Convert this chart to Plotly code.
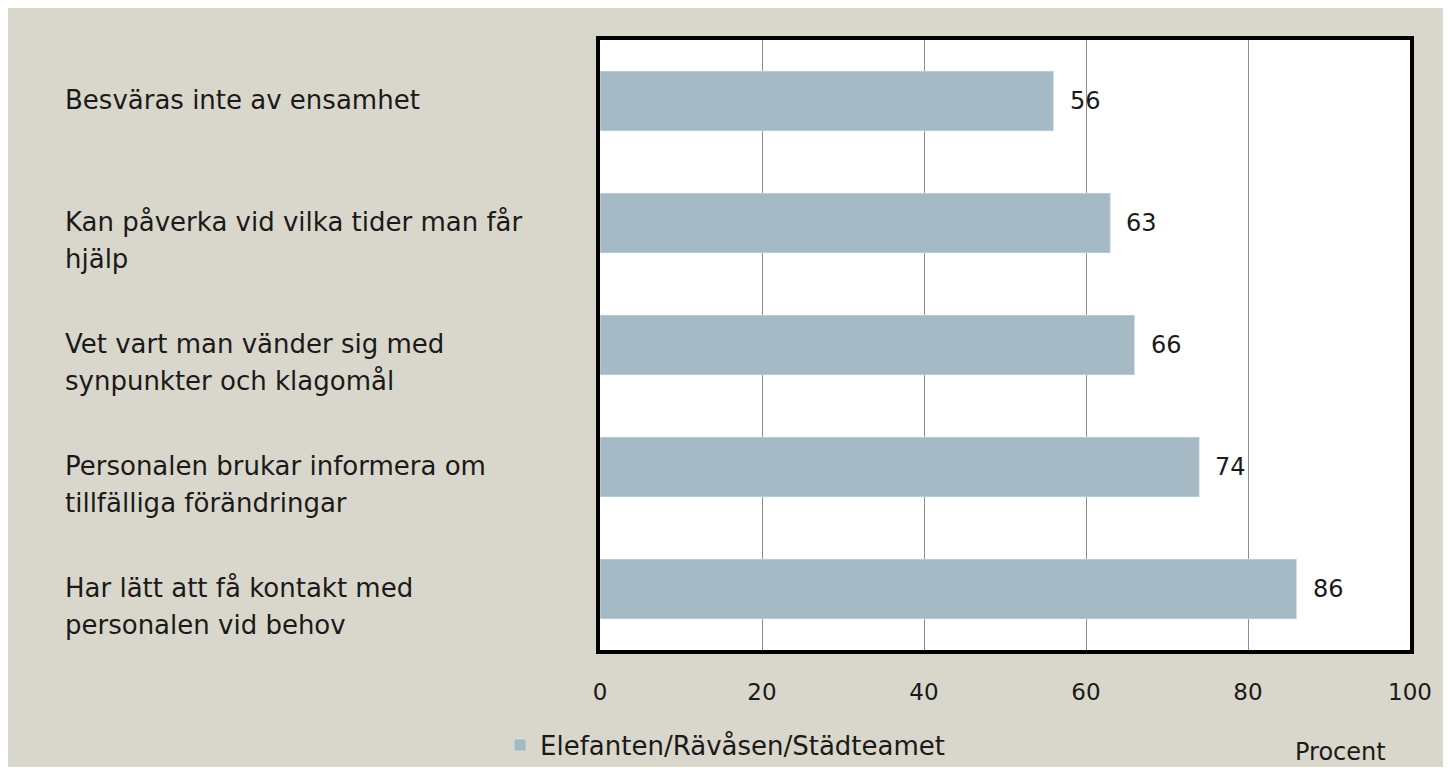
"""Horizontal bar chart: Elefanten/Rävåsen/Städteamet survey results."""

import plotly.graph_objects as go

categories = [
    "Besväras inte av ensamhet",
    "Kan påverka vid vilka tider man får\nhjälp",
    "Vet vart man vänder sig med\nsynpunkter och klagomål",
    "Personalen brukar informera om\ntillfälliga förändringar",
    "Har lätt att få kontakt med\npersonalen vid behov",
]
values = [56, 63, 66, 74, 86]
series_name = "Elefanten/Rävåsen/Städteamet"
x_ticks = [0, 20, 40, 60, 80, 100]
x_title = "Procent"

FONT = "DejaVu Sans"
BG = "#d9d7cb"
BAR = "#a6bac5"
TXT = "#1a1a1a"

fig = go.Figure()
fig.add_trace(
    go.Bar(
        y=categories,
        x=values,
        orientation="h",
        name=series_name,
        marker_color=BAR,
        width=0.49,
    )
)

# value labels to the right of the bars
for cat, v in zip(categories, values):
    fig.add_annotation(
        text=str(v), x=v, y=cat, xanchor="left", xshift=14,
        showarrow=False, font=dict(size=24, color=TXT, family=FONT),
    )

# category labels, left aligned in the left margin
for cat in categories:
    for i, line in enumerate(cat.split("\n")):
        fig.add_annotation(
            text=line,
            xref="paper", x=-0.663, xanchor="left",
            yref="y", y=cat, yanchor="middle",
            yshift=1 - i * 37,
            showarrow=False,
            font=dict(size=26, color=TXT, family=FONT),
        )

fig.add_annotation(
    text=x_title,
    xref="paper", x=0.9136, xanchor="center",
    yref="paper", y=-0.1672, yanchor="middle",
    showarrow=False,
    font=dict(size=24, color=TXT, family=FONT),
)

fig.update_layout(
    width=1435,
    height=759,
    paper_bgcolor=BG,
    plot_bgcolor="white",
    margin=dict(l=592, r=33, t=32, b=117),
    font=dict(family=FONT, size=23, color=TXT),
    showlegend=True,
    legend=dict(
        orientation="h",
        xref="container", yref="container",
        x=0.3429, xanchor="left",
        y=0.029, yanchor="middle",
        bgcolor="rgba(0,0,0,0)",
        font=dict(size=26, family=FONT),
        itemwidth=30,
    ),
)
fig.update_xaxes(
    range=[0, 100],
    tickvals=x_ticks,
    showgrid=True,
    gridcolor="#8c8c8c",
    gridwidth=1,
    zeroline=False,
    showline=True,
    linecolor="black",
    linewidth=4,
    mirror=True,
    ticks="",
    ticklabelstandoff=18,
    tickfont=dict(size=23, family=FONT),
)
fig.update_yaxes(
    autorange="reversed",
    showticklabels=False,
    showline=True,
    linecolor="black",
    linewidth=4,
    mirror=True,
    ticks="",
)

fig.write_html("out.html")
